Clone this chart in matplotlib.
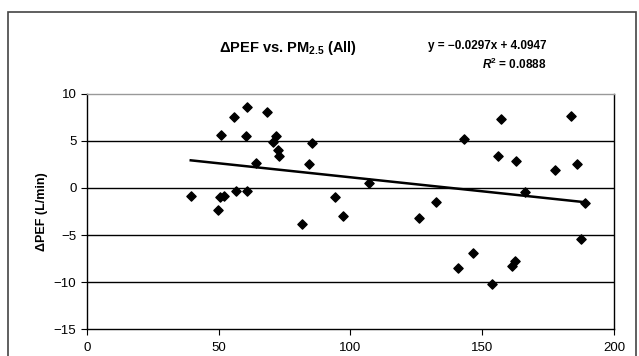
import matplotlib
matplotlib.use("Agg")
import matplotlib.pyplot as plt
from matplotlib.patches import Rectangle
import numpy as np

plt.rcParams['font.family'] = ['Liberation Sans', 'DejaVu Sans']
plt.rcParams['mathtext.fontset'] = 'custom'
plt.rcParams['mathtext.rm'] = 'Liberation Sans'
plt.rcParams['mathtext.bf'] = 'Liberation Sans:bold'
plt.rcParams['mathtext.bfit'] = 'Liberation Sans:bold:italic'

# PM2.5 vs change in PEF
pm25 = [39.4, 50.8, 49.8, 50.5, 52.0, 55.9, 60.6, 60.2, 56.4, 60.6,
        64.0, 68.2, 71.7, 70.7, 72.4, 73.0, 81.5, 85.3, 84.4, 94.1,
        97.0, 107.1, 126.0, 132.3, 143.2, 140.7, 146.4, 157.1, 156.1, 153.8,
        162.7, 161.2, 162.4, 166.2, 177.6, 183.6, 185.8, 189.0, 187.4]
dpef = [-0.9, 5.6, -2.3, -1.0, -0.9, 7.5, 8.6, 5.5, -0.3, -0.3,
        2.6, 8.0, 5.5, 4.9, 4.0, 3.4, -3.8, 4.8, 2.5, -1.0,
        -3.0, 0.5, -3.2, -1.5, 5.2, -8.5, -6.9, 7.3, 3.4, -10.2,
        2.9, -8.3, -7.8, -0.4, 1.9, 7.6, 2.5, -1.6, -5.4]
slope, intercept = -0.0297, 4.0947
r2 = 0.0888

fig = plt.figure(figsize=(6.39, 3.56), dpi=100)
ax = fig.add_axes([0.136, 0.075, 0.825, 0.662])

ax.scatter(pm25, dpef, marker='D', s=22, color='black', zorder=3)
xl = np.array([min(pm25), max(pm25)])
ax.plot(xl, slope * xl + intercept, color='black', lw=1.8, zorder=2)

ax.set_xlim(0, 200)
ax.set_ylim(-15, 10)
ax.set_xticks([0, 50, 100, 150, 200])
ax.set_yticks([-15, -10, -5, 0, 5, 10])
ax.set_yticklabels(['\u221215', '\u221210', '\u22125', '0', '5', '10'])
for v in [-10, -5, 0, 5]:
    ax.axhline(v, color='black', lw=1.0, zorder=1)
for s in ax.spines.values():
    s.set_color('black')
    s.set_linewidth(1.0)
ax.spines['top'].set_color('#999999')
ax.tick_params(axis='both', labelsize=9.5, length=4, direction='out')
ax.tick_params(axis='x', pad=5)
ax.set_ylabel('\u0394PEF (L/min)', fontsize=9, fontweight='bold')

fig.text(0.45, 0.865, r'$\mathbf{\Delta}$PEF vs. PM$_{\mathbf{2.5}}$ (All)',
         fontsize=10.5, fontweight='bold', ha='center', va='center')
fig.text(0.855, 0.87, 'y = \u22120.0297x + 4.0947', fontsize=8.5,
         fontweight='bold', ha='right', va='center')
fig.text(0.855, 0.82, r'$\mathbfit{R}^{\mathbf{2}}$ = %.4f' % r2, fontsize=8.5,
         fontweight='bold', ha='right', va='center')

fig.patches.append(Rectangle((0.013, -0.01), 0.982, 0.975, transform=fig.transFigure,
                             fill=False, edgecolor='#444444', lw=1.2))

fig.savefig('out.png', dpi=100)
